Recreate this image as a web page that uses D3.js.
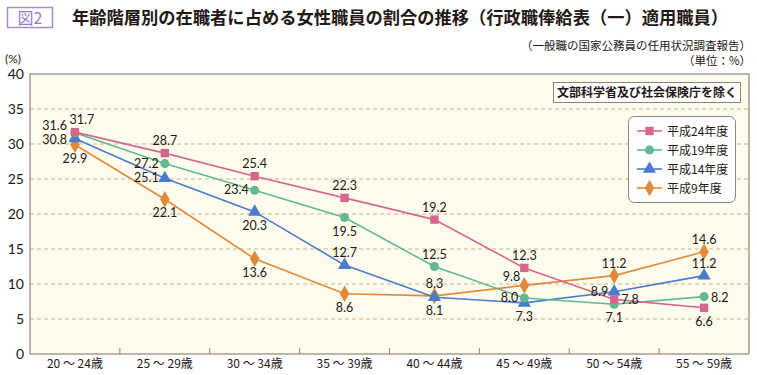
<!DOCTYPE html>
<html>
<head>
<meta charset="utf-8">
<script src="https://cdn.jsdelivr.net/npm/d3@7/dist/d3.min.js"></script>
<style>
  body { margin: 0; background: #fff; }
  text { font-family: "Noto Sans CJK JP", "Noto Sans", sans-serif; fill: #231815; }
  .num { font-family: Lato, "Noto Sans", sans-serif; }
</style>
</head>
<body>
<div id="chart"></div>
<script>
// age groups on the x axis
const ageGroups = ["20 ～ 24歳", "25 ～ 29歳", "30 ～ 34歳", "35 ～ 39歳", "40 ～ 44歳", "45 ～ 49歳", "50 ～ 54歳", "55 ～ 59歳"];
const yTicks = [0, 5, 10, 15, 20, 25, 30, 35, 40];

// share of women (%) per fiscal year
const seriesNames = ["平成24年度", "平成19年度", "平成14年度", "平成9年度"];
const h24 = [31.7, 28.7, 25.4, 22.3, 19.2, 12.3, 7.8, 6.6];
const h19 = [31.6, 27.2, 23.4, 19.5, 12.5, 8.0, 7.1, 8.2];
const h14 = [30.8, 25.1, 20.3, 12.7, 8.1, 7.3, 8.9, 11.2];
const h9  = [29.9, 22.1, 13.6, 8.6, 8.3, 9.8, 11.2, 14.6];

// where each value label sits relative to its marker
const labelPlace = [
  ["ar", "a", "a", "a", "a", "a", "r", "b"],
  ["lu", "l", "l", "b", "a", "l", "b", "r"],
  ["ld", "l", "b", "a", "b", "b", "l", "a"],
  ["b", "b", "b", "b", "a", "al", "a", "a"]
];

const colors = ["#d5678e", "#62b892", "#4a7bcc", "#e3893a"];
const shapes = [d3.symbolSquare, d3.symbolCircle, d3.symbolTriangle, d3.symbolDiamond];
const shapeSize = [70, 65, 75, 80];

const W = 757, H = 375;
const margin = { top: 74, right: 8, bottom: 21, left: 30 };

const svg = d3.select("#chart").append("svg")
  .attr("width", W).attr("height", H);

// header
svg.append("rect")
  .attr("x", 7.5).attr("y", 7.5).attr("width", 45).attr("height", 20)
  .attr("fill", "#fff").attr("stroke", "#a78cc6").attr("stroke-width", 1.5);
svg.append("text")
  .attr("x", 30).attr("y", 24).attr("text-anchor", "middle")
  .attr("font-size", 16).style("fill", "#9b7cbf")
  .text("図2");
svg.append("text")
  .attr("x", 72).attr("y", 24)
  .attr("font-size", 17.5).attr("font-weight", "bold")
  .attr("textLength", 656).attr("lengthAdjust", "spacingAndGlyphs")
  .text("年齢階層別の在職者に占める女性職員の割合の推移（行政職俸給表（一）適用職員）");
svg.append("text")
  .attr("x", 751).attr("y", 50).attr("text-anchor", "end")
  .attr("font-size", 11.5)
  .text("（一般職の国家公務員の任用状況調査報告）");
svg.append("text")
  .attr("x", 751).attr("y", 65).attr("text-anchor", "end")
  .attr("font-size", 11.5)
  .text("（単位：%）");
svg.append("text")
  .attr("class", "num")
  .attr("x", 5).attr("y", 63)
  .attr("font-size", 12)
  .text("(%)");

const x = d3.scaleBand()
  .domain(ageGroups)
  .range([margin.left, W - margin.right]);
const y = d3.scaleLinear()
  .domain([0, 40])
  .range([H - margin.bottom, margin.top]);

// plot background
svg.append("rect")
  .attr("x", margin.left).attr("y", margin.top)
  .attr("width", W - margin.left - margin.right)
  .attr("height", H - margin.top - margin.bottom)
  .attr("fill", "#fefcec");

// dashed grid
svg.append("g")
  .selectAll("line")
  .data(yTicks.filter(d => d > 0 && d < 40))
  .join("line")
  .attr("x1", margin.left).attr("x2", W - margin.right)
  .attr("y1", d => y(d)).attr("y2", d => y(d))
  .attr("stroke", "#c9b48e").attr("stroke-dasharray", "4,3");

// frame
svg.append("rect")
  .attr("x", margin.left).attr("y", margin.top)
  .attr("width", W - margin.left - margin.right)
  .attr("height", H - margin.top - margin.bottom)
  .attr("fill", "none").attr("stroke", "#8c8579").attr("stroke-width", 1.2);

// y axis
const yAxis = svg.append("g")
  .attr("transform", `translate(${margin.left},0)`)
  .call(d3.axisLeft(y).tickValues(yTicks).tickSize(0).tickPadding(6));
yAxis.select(".domain").remove();
yAxis.selectAll("text").attr("class", "num").attr("font-size", 14);

// x axis
const xAxis = svg.append("g")
  .attr("transform", `translate(0,${H - margin.bottom})`)
  .call(d3.axisBottom(x).tickSize(0).tickPadding(5));
xAxis.select(".domain").remove();
xAxis.selectAll("text").attr("font-size", 12);

// inward ticks at band boundaries
svg.append("g")
  .selectAll("line")
  .data(ageGroups.slice(1))
  .join("line")
  .attr("x1", d => x(d)).attr("x2", d => x(d))
  .attr("y1", H - margin.bottom).attr("y2", H - margin.bottom - 6)
  .attr("stroke", "#8c8579");

// note box
svg.append("rect")
  .attr("x", 553.5).attr("y", 82.5).attr("width", 187).attr("height", 20)
  .attr("fill", "#fff").attr("stroke", "#8c8579");
svg.append("text")
  .attr("x", 647).attr("y", 97).attr("text-anchor", "middle")
  .attr("font-size", 12).attr("font-weight", "bold")
  .text("文部科学省及び社会保険庁を除く");

const allSeries = [h24, h19, h14, h9];
const cx = i => x(ageGroups[i]) + x.bandwidth() / 2;
const line = d3.line().x((d, i) => cx(i)).y(d => y(d));

// draw oldest series first so newer ones sit on top
[3, 2, 1, 0].forEach(s => {
  const g = svg.append("g");
  g.append("path")
    .datum(allSeries[s])
    .attr("d", line)
    .attr("fill", "none")
    .attr("stroke", colors[s])
    .attr("stroke-width", 1.6);
  g.selectAll("path.m")
    .data(allSeries[s])
    .join("path")
    .attr("class", "m")
    .attr("transform", (d, i) => `translate(${cx(i)},${y(d)})`)
    .attr("d", d3.symbol().type(shapes[s]).size(shapeSize[s]))
    .attr("fill", colors[s]);
});

// value labels
const offsets = {
  a: [0, -8, "middle"],
  ar: [7, -8, "middle"],
  al: [-4, -4, "end"],
  b: [0, 18, "middle"],
  l: [-6, 4, "end"],
  lu: [-8, -3, "end"],
  ld: [-8, 5.5, "end"],
  r: [7, 5, "start"]
};
allSeries.forEach((vals, s) => {
  svg.append("g")
    .selectAll("text")
    .data(vals)
    .join("text")
    .attr("class", "num")
    .attr("x", (d, i) => cx(i) + offsets[labelPlace[s][i]][0])
    .attr("y", (d, i) => y(d) + offsets[labelPlace[s][i]][1])
    .attr("text-anchor", (d, i) => offsets[labelPlace[s][i]][2])
    .attr("font-size", 12.5)
    .text(d => d.toFixed(1));
});

// legend
const lg = svg.append("g").attr("transform", "translate(628,116)");
lg.append("rect")
  .attr("x", 0.5).attr("y", 0.5).attr("width", 107).attr("height", 86)
  .attr("rx", 6)
  .attr("fill", "#fff").attr("stroke", "#8c8579");
seriesNames.forEach((name, s) => {
  const ly = 15 + s * 19;
  lg.append("line")
    .attr("x1", 9).attr("x2", 34).attr("y1", ly).attr("y2", ly)
    .attr("stroke", colors[s]).attr("stroke-width", 1.6);
  lg.append("path")
    .attr("transform", `translate(21.5,${ly})`)
    .attr("d", d3.symbol().type(shapes[s]).size(shapeSize[s]))
    .attr("fill", colors[s]);
  lg.append("text")
    .attr("x", 39).attr("y", ly + 4.5)
    .attr("font-size", 12)
    .text(name);
});
</script>
</body>
</html>
